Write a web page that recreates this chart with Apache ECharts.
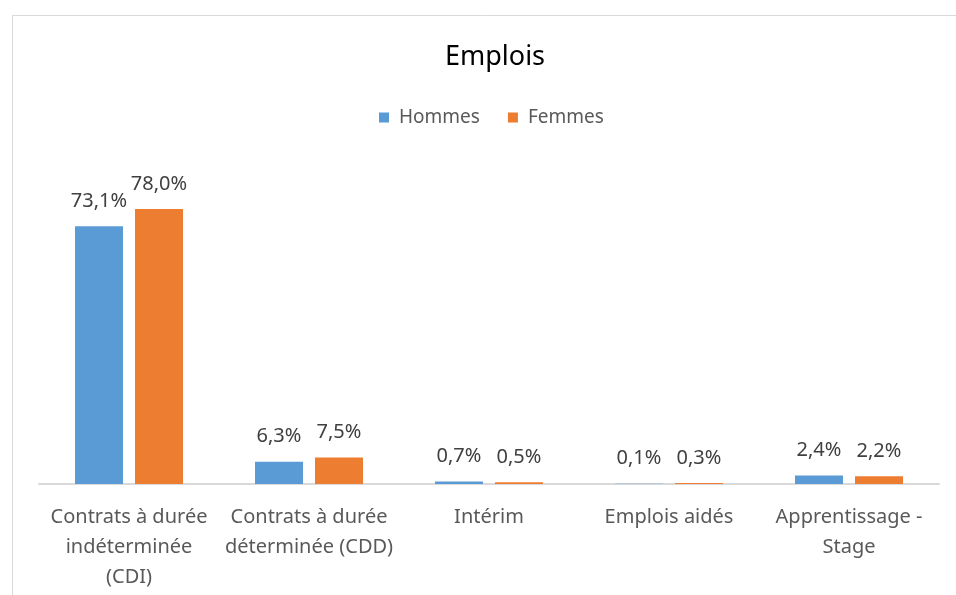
<!DOCTYPE html>
<html>
<head>
<meta charset="utf-8">
<script src="https://cdn.jsdelivr.net/npm/echarts@6/dist/echarts.min.js"></script>
<style>
html, body { margin: 0; padding: 0; background: #fff; }
#chart { width: 956px; height: 595px; }
</style>
</head>
<body>
<div id="chart"></div>
<script>
var categories = [
    'Contrats à durée\nindéterminée\n(CDI)',
    'Contrats à durée\ndéterminée (CDD)',
    'Intérim',
    'Emplois aidés',
    'Apprentissage -\nStage'
]
var hommes = [73.1, 6.3, 0.7, 0.1, 2.4]
var femmes = [78.0, 7.5, 0.5, 0.3, 2.2]

var font = "'Noto Sans', 'Open Sans', sans-serif"

function pct(p) {
    return p.value.toFixed(1).replace('.', ',') + '%'
}

var barLabel = {
    show: true, position: 'top', distance: 15,
    formatter: pct, color: '#404040', fontSize: 20, fontFamily: font
}

var option = {
    animation: false,
    color: ['#5B9BD5', '#ED7D31'],
    graphic: [{
        type: 'rect', left: 10, top: 13,
        shape: { width: 1000, height: 1000 },
        style: { fill: 'none', stroke: '#d9d9d9', lineWidth: 1 }
    }],
    title: {
        text: 'Emplois', left: 490, top: 39, textAlign: 'center',
        textStyle: { color: '#000', fontSize: 27, fontWeight: 'normal', fontFamily: font }
    },
    legend: {
        left: 374, top: 103,
        itemWidth: 10, itemHeight: 10, itemGap: 28,
        icon: 'rect',
        textStyle: { color: '#595959', fontSize: 19, fontFamily: font, padding: [0, 0, 0, 5] },
        data: ['Hommes', 'Femmes']
    },
    grid: { left: 39, right: 17, top: 202, bottom: 111 },
    xAxis: {
        type: 'category',
        data: categories,
        axisLine: { lineStyle: { color: '#d9d9d9', width: 2 } },
        axisTick: { show: false },
        axisLabel: {
            color: '#595959', fontSize: 20, lineHeight: 30, margin: 18,
            interval: 0, fontFamily: font
        }
    },
    yAxis: {
        type: 'value', min: 0, max: 80,
        show: false, splitLine: { show: false }
    },
    series: [{
        name: 'Hommes', type: 'bar', data: hommes,
        barWidth: 48, barGap: '25%', label: barLabel
    }, {
        name: 'Femmes', type: 'bar', data: femmes,
        barWidth: 48, barGap: '25%', label: barLabel
    }]
}

var chart = echarts.init(document.getElementById('chart'))
chart.setOption(option)
</script>
</body>
</html>
